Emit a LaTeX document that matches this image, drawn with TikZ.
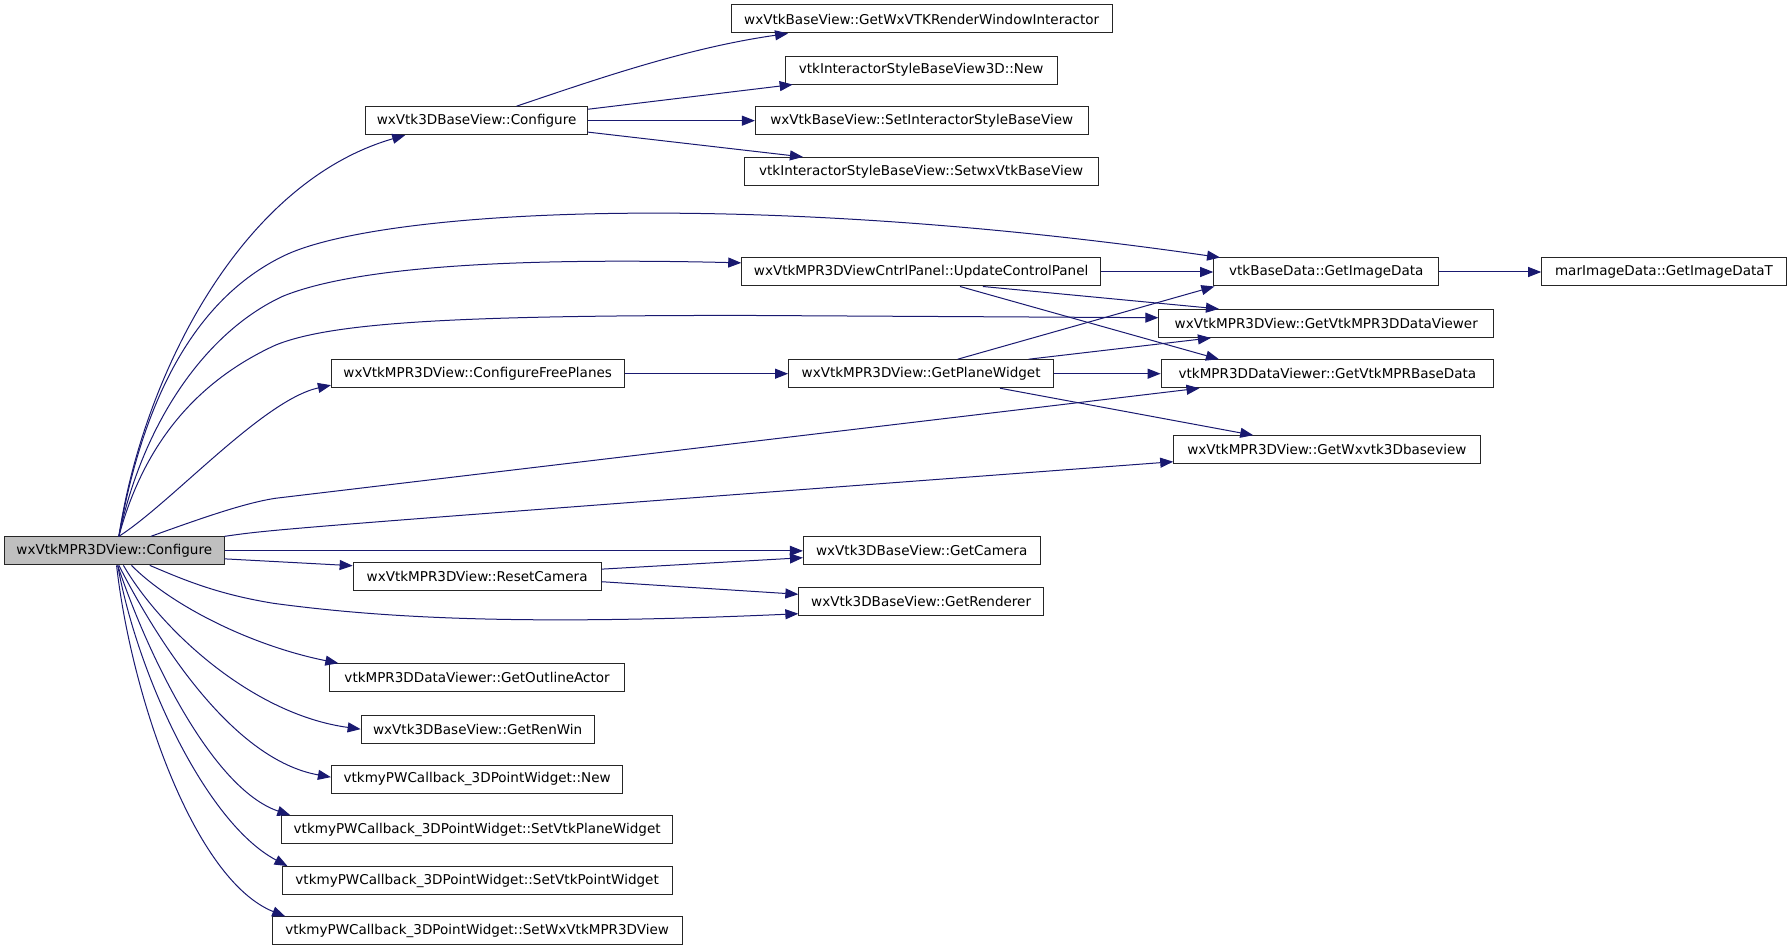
\documentclass[tikz,border=0pt]{standalone}
\usepackage{fontspec}
\setmainfont{DejaVu Sans}
\usetikzlibrary{arrows.meta,calc}
\definecolor{edgeblue}{HTML}{191970}
\begin{document}
\begin{tikzpicture}[x=0.857143pt,y=-0.857143pt,
  fn/.style={draw=black!85, line width=0.75pt, fill=white,
    minimum width=#1*0.857143pt, minimum height=24.5*0.857143pt,
    inner sep=0pt, anchor=center,
    font=\fontsize{10.15pt}{12pt}\selectfont},
  call/.style={draw=edgeblue, line width=0.75pt,
    -{Triangle[length=9.75pt,width=7.5pt]}}]
\useasboundingbox (0,0) rectangle (1568,830);

% nodes
\node[fn=192, fill=black!25] (main) at (100,482) {wxVtkMPR3DView::Configure};
\node[fn=194] (cfg3d) at (417,105.6) {wxVtk3DBaseView::Configure};
\node[fn=333] (rwi) at (806.5,16.6) {wxVtkBaseView::GetWxVTKRenderWindowInteractor};
\node[fn=238] (isnew) at (806,61.3) {vtkInteractorStyleBaseView3D::New};
\node[fn=291] (setis) at (806.5,105.6) {wxVtkBaseView::SetInteractorStyleBaseView};
\node[fn=310] (setwx) at (806,150) {vtkInteractorStyleBaseView::SetwxVtkBaseView};
\node[fn=314] (upd) at (806,238) {wxVtkMPR3DViewCntrlPanel::UpdateControlPanel};
\node[fn=197] (gid) at (1160.5,238) {vtkBaseData::GetImageData};
\node[fn=214] (mar) at (1456,238) {marImageData::GetImageDataT};
\node[fn=293] (gvd) at (1160.5,283) {wxVtkMPR3DView::GetVtkMPR3DDataViewer};
\node[fn=256] (cfp) at (418,327) {wxVtkMPR3DView::ConfigureFreePlanes};
\node[fn=232] (gpw) at (806,327) {wxVtkMPR3DView::GetPlaneWidget};
\node[fn=291] (gmb) at (1161.5,327) {vtkMPR3DDataViewer::GetVtkMPRBaseData};
\node[fn=268] (gwx) at (1161,393.5) {wxVtkMPR3DView::GetWxvtk3Dbaseview};
\node[fn=207] (gcam) at (806.5,482) {wxVtk3DBaseView::GetCamera};
\node[fn=217] (rst) at (417.5,504.5) {wxVtkMPR3DView::ResetCamera};
\node[fn=214] (grend) at (806,526.5) {wxVtk3DBaseView::GetRenderer};
\node[fn=258] (gout) at (417.5,593) {vtkMPR3DDataViewer::GetOutlineActor};
\node[fn=204] (grw) at (418,638) {wxVtk3DBaseView::GetRenWin};
\node[fn=255] (pwnew) at (417.5,682) {vtkmyPWCallback\_3DPointWidget::New};
\node[fn=342] (pwplane) at (417.5,726) {vtkmyPWCallback\_3DPointWidget::SetVtkPlaneWidget};
\node[fn=341] (pwpoint) at (417.5,770.5) {vtkmyPWCallback\_3DPointWidget::SetVtkPointWidget};
\node[fn=359] (pwmpr) at (417.5,814.5) {vtkmyPWCallback\_3DPointWidget::SetWxVtkMPR3DView};

% edges from main
\draw[call] ($(main.north)+(4,0)$) .. controls (125,330) and (210,160) .. ($(cfg3d.south west)+(35,0)$);
\draw[call] ($(main.north)+(4,0)$) .. controls (125,350) and (170,262) .. (248,224)
   .. controls (330,184) and (650,165) .. ($(gid.north west)+(6,0)$);
\draw[call] ($(main.north)+(4,0)$) .. controls (125,370) and (180,290) .. (248,259)
   .. controls (320,230) and (480,226) .. ($(upd.west)+(0,-8)$);
\draw[call] ($(main.north)+(4,0)$) .. controls (128,380) and (180,330) .. (241,302)
   .. controls (290,282) and (400,276) .. (650,276) -- ($(gvd.west)+(0,-5)$);
\draw[call] ($(main.north)+(4,0)$) .. controls (150,440) and (230,350) .. ($(cfp.west)+(0,10)$);
\draw[call] ($(main.north)+(32,0)$) .. controls (180,452) and (215,440) .. (241,436)
   -- ($(gmb.south west)+(34,0)$);
\draw[call] (main.north east) .. controls (240,463) .. ($(gwx.west)+(0,10.5)$);
\draw[call] (main.east) -- (gcam.west);
\draw[call] ($(main.east)+(0,7)$) -- ($(rst.west)+(0,-9.5)$);
\draw[call] ($(main.south)+(31,0)$) .. controls (160,507) and (190,520) .. (240,528)
   .. controls (330,540) and (450,548) .. ($(grend.west)+(0,10.5)$);
\draw[call] ($(main.south)+(15,0)$) .. controls (150,530) and (220,565) .. ($(gout.north west)+(8,0)$);
\draw[call] ($(main.south)+(8,0)$) .. controls (140,550) and (220,625) .. (grw.west);
\draw[call] ($(main.south)+(4,0)$) .. controls (140,565) and (205,665) .. ($(pwnew.west)+(0,-2)$);
\draw[call] ($(main.south)+(3,0)$) .. controls (128,570) and (185,690) .. ($(pwplane.north west)+(8,0)$);
\draw[call] ($(main.south)+(3,0)$) .. controls (120,590) and (180,720) .. ($(pwpoint.north west)+(5,0)$);
\draw[call] ($(main.south)+(2,0)$) .. controls (115,610) and (170,770) .. ($(pwmpr.north west)+(12,0)$);

% edges from wxVtk3DBaseView::Configure
\draw[call] ($(cfg3d.north)+(35,0)$) .. controls (520,70) and (600,42) .. ($(rwi.south west)+(50,0)$);
\draw[call] ($(cfg3d.east)+(0,-10)$) -- ($(isnew.south west)+(7,0)$);
\draw[call] (cfg3d.east) -- (setis.west);
\draw[call] ($(cfg3d.east)+(0,10)$) -- ($(setwx.north west)+(52,0)$);

% edges from UpdateControlPanel
\draw[call] (upd.east) -- (gid.west);
\draw[call] ($(upd.south)+(54,0)$) -- ($(gvd.north west)+(53,0)$);
\draw[call] ($(upd.south)+(34,0)$) -- ($(gmb.north west)+(51,0)$);

% edges from GetPlaneWidget
\draw[call] ($(gpw.north)+(32,0)$) -- ($(gid.south west)+(1,0)$);
\draw[call] ($(gpw.north)+(94,0)$) -- ($(gvd.south west)+(46,0)$);
\draw[call] (gpw.east) -- (gmb.west);
\draw[call] ($(gpw.south)+(69,0)$) -- ($(gwx.north west)+(70,0)$);

% other edges
\draw[call] (cfp.east) -- (gpw.west);
\draw[call] (gid.east) -- (mar.west);
\draw[call] ($(rst.east)+(0,-6.5)$) -- ($(gcam.west)+(0,6)$);
\draw[call] ($(rst.east)+(0,4.5)$) -- ($(grend.west)+(0,-6.5)$);
\end{tikzpicture}
\end{document}
